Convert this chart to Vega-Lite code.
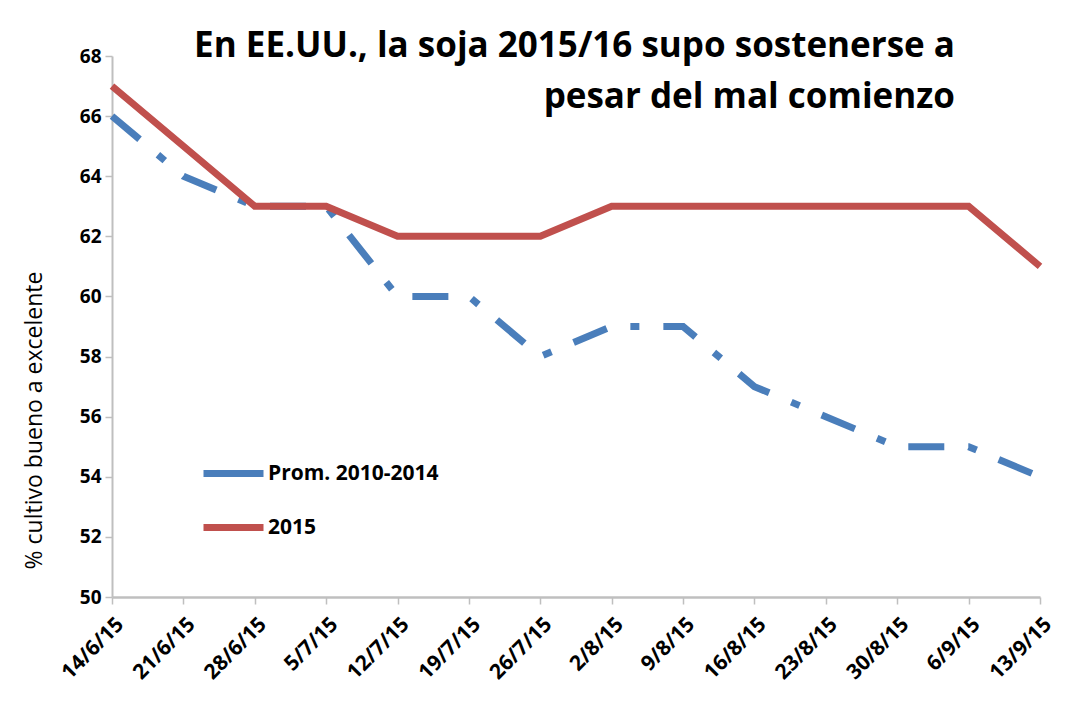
{
  "$schema": "https://vega.github.io/schema/vega-lite/v6.json",
  "width": 928,
  "height": 541,
  "autosize": {"type": "none"},
  "padding": {"left": 112, "top": 56, "right": 29, "bottom": 107},
  "background": "white",
  "title": {
    "text": ["En EE.UU., la soja 2015/16 supo sostenerse a", "pesar del mal comienzo"],
    "anchor": "end",
    "frame": "group",
    "orient": "top",
    "offset": -68,
    "dx": -85,
    "font": "Open Sans",
    "fontSize": 35,
    "fontWeight": "bold",
    "lineHeight": 51,
    "color": "black"
  },
  "data": {
    "values": [
      {"fecha": "14/6/15", "serie": "Prom. 2010-2014", "valor": 66},
      {"fecha": "21/6/15", "serie": "Prom. 2010-2014", "valor": 64},
      {"fecha": "28/6/15", "serie": "Prom. 2010-2014", "valor": 63},
      {"fecha": "5/7/15", "serie": "Prom. 2010-2014", "valor": 63},
      {"fecha": "12/7/15", "serie": "Prom. 2010-2014", "valor": 60},
      {"fecha": "19/7/15", "serie": "Prom. 2010-2014", "valor": 60},
      {"fecha": "26/7/15", "serie": "Prom. 2010-2014", "valor": 58},
      {"fecha": "2/8/15", "serie": "Prom. 2010-2014", "valor": 59},
      {"fecha": "9/8/15", "serie": "Prom. 2010-2014", "valor": 59},
      {"fecha": "16/8/15", "serie": "Prom. 2010-2014", "valor": 57},
      {"fecha": "23/8/15", "serie": "Prom. 2010-2014", "valor": 56},
      {"fecha": "30/8/15", "serie": "Prom. 2010-2014", "valor": 55},
      {"fecha": "6/9/15", "serie": "Prom. 2010-2014", "valor": 55},
      {"fecha": "13/9/15", "serie": "Prom. 2010-2014", "valor": 54},
      {"fecha": "14/6/15", "serie": "2015", "valor": 67},
      {"fecha": "21/6/15", "serie": "2015", "valor": 65},
      {"fecha": "28/6/15", "serie": "2015", "valor": 63},
      {"fecha": "5/7/15", "serie": "2015", "valor": 63},
      {"fecha": "12/7/15", "serie": "2015", "valor": 62},
      {"fecha": "19/7/15", "serie": "2015", "valor": 62},
      {"fecha": "26/7/15", "serie": "2015", "valor": 62},
      {"fecha": "2/8/15", "serie": "2015", "valor": 63},
      {"fecha": "9/8/15", "serie": "2015", "valor": 63},
      {"fecha": "16/8/15", "serie": "2015", "valor": 63},
      {"fecha": "23/8/15", "serie": "2015", "valor": 63},
      {"fecha": "30/8/15", "serie": "2015", "valor": 63},
      {"fecha": "6/9/15", "serie": "2015", "valor": 63},
      {"fecha": "13/9/15", "serie": "2015", "valor": 61}
    ]
  },
  "encoding": {
    "x": {
      "field": "fecha",
      "type": "ordinal",
      "sort": null,
      "scale": {"type": "point", "padding": 0},
      "axis": {
        "title": null,
        "labelAngle": -45,
        "labelAlign": "right",
        "labelBaseline": "middle",
        "labelFont": "Open Sans",
        "labelFontWeight": "bold",
        "labelFontSize": 21,
        "labelColor": "black",
        "labelPadding": 17,
        "labelOffset": 8,
        "domainColor": "#bfbfbf",
        "domainWidth": 2.5,
        "tickColor": "#bfbfbf",
        "tickWidth": 1.5,
        "tickSize": 7,
        "grid": false
      }
    },
    "y": {
      "field": "valor",
      "type": "quantitative",
      "scale": {"domain": [50, 68], "nice": false, "zero": false},
      "axis": {
        "title": "% cultivo bueno a excelente",
        "titleFont": "Open Sans",
        "titleFontSize": 23,
        "titleFontWeight": "normal",
        "titleColor": "black",
        "titleAngle": -90,
        "titleX": -66,
        "titleY": 364,
        "titleAlign": "center",
        "values": [50, 52, 54, 56, 58, 60, 62, 64, 66, 68],
        "labelFont": "Open Sans",
        "labelFontWeight": "bold",
        "labelFontSize": 19,
        "labelColor": "black",
        "labelPadding": 4,
        "domainColor": "#bfbfbf",
        "domainWidth": 2,
        "tickColor": "#bfbfbf",
        "tickWidth": 1.5,
        "tickSize": 7,
        "grid": false
      }
    },
    "color": {
      "field": "serie",
      "type": "nominal",
      "scale": {"domain": ["Prom. 2010-2014", "2015"], "range": ["#4a7ebb", "#c0504d"]},
      "legend": {
        "title": null,
        "orient": "none",
        "legendX": 88,
        "legendY": 384,
        "padding": 0,
        "symbolType": "stroke",
        "symbolStrokeWidth": 7,
        "symbolSize": 3600,
        "labelFont": "Open Sans",
        "labelFontWeight": "bold",
        "labelFontSize": 21,
        "labelColor": "black",
        "labelOffset": 1,
        "labelLimit": 400,
        "rowPadding": 6
      }
    }
  },
  "layer": [
    {
      "transform": [{"filter": "datum.serie === 'Prom. 2010-2014'"}],
      "mark": {"type": "line", "strokeWidth": 7, "strokeDash": [36, 24, 9, 24], "strokeCap": "butt"}
    },
    {
      "transform": [{"filter": "datum.serie === '2015'"}],
      "mark": {"type": "line", "strokeWidth": 7}
    }
  ],
  "config": {"view": {"stroke": null}}
}
